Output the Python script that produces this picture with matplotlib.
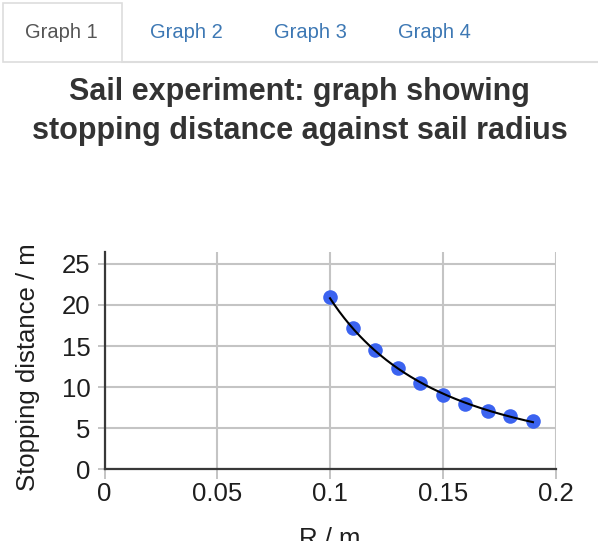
import numpy as np
import matplotlib
matplotlib.use("Agg")
import matplotlib.pyplot as plt
from matplotlib.patches import Rectangle
from matplotlib.lines import Line2D

plt.rcParams['font.family'] = ['Liberation Sans', 'DejaVu Sans']

# ---- data ----
radius = [0.10, 0.11, 0.12, 0.13, 0.14, 0.15, 0.16, 0.17, 0.18, 0.19]
stopping = [21.0, 17.2, 14.5, 12.3, 10.5, 9.1, 8.0, 7.05, 6.5, 5.85]
x_ticks = [0, 0.05, 0.1, 0.15, 0.2]
x_tick_labels = ["0", "0.05", "0.1", "0.15", "0.2"]
y_ticks = [0, 5, 10, 15, 20, 25]
y_tick_labels = ["0", "5", "10", "15", "20", "25"]
tab_labels = ["Graph 1", "Graph 2", "Graph 3", "Graph 4"]
title_lines = ["Sail experiment: graph showing", "stopping distance against sail radius"]
x_label = "R / m"
y_label = "Stopping distance / m"

W, H = 598, 541
fig = plt.figure(figsize=(W / 100, H / 100), dpi=100)
fig.patch.set_facecolor('white')

def fx(px):
    return px / W

def fy(py):
    return 1 - py / H

# ---- tabs ----
tab_centers = [61.5, 186, 310, 434]
tab_colors = ['#555555', '#3d78b4', '#3d78b4', '#3d78b4']
fig.patches.append(Rectangle((fx(3), fy(62)), fx(122) - fx(3), fy(3) - fy(62),
                             transform=fig.transFigure, facecolor='white',
                             edgecolor='#dddddd', linewidth=1.2, zorder=1))
fig.lines.append(Line2D([fx(122), 1.0], [fy(62), fy(62)], transform=fig.transFigure,
                        color='#dddddd', linewidth=1.5, zorder=1))
for lab, cx, col in zip(tab_labels, tab_centers, tab_colors):
    fig.text(fx(cx), fy(33), lab, ha='center', va='center', fontsize=14.5, color=col)

# ---- title ----
fig.text(fx(299.5), fy(100), title_lines[0], ha='center', va='baseline',
         fontsize=22, fontweight='bold', color='#333333')
fig.text(fx(299.5), fy(139), title_lines[1], ha='center', va='baseline',
         fontsize=22, fontweight='bold', color='#333333')

# ---- axes ----
left, right, top, bottom = 104.5, 555.5, 252.3, 469.3
ax = fig.add_axes([fx(left), fy(bottom), (right - left) / W, (bottom - top) / H])
ax.set_xlim(0, 0.2)
ax.set_ylim(0, 26.4)
ax.set_xticks(x_ticks)
ax.set_xticklabels(x_tick_labels)
ax.set_yticks(y_ticks)
ax.set_yticklabels(y_tick_labels)
ax.grid(True, color='#c4c4c4', linewidth=1.5)
ax.set_axisbelow(True)
for s in ['top', 'right']:
    ax.spines[s].set_visible(False)
for s in ['left', 'bottom']:
    ax.spines[s].set_color('#383838')
    ax.spines[s].set_linewidth(1.6)
    ax.spines[s].set_zorder(2.5)
ax.tick_params(axis='x', length=7.2, width=1.4, color='#c4c4c4', pad=2,
               labelsize=18.5, labelcolor='#1e1e1e')
ax.tick_params(axis='y', length=5.4, width=1.4, color='#c4c4c4', pad=4.5,
               labelsize=18.5, labelcolor='#1e1e1e')

ax.plot(radius, stopping, 'o', color='#3b63f0', markersize=10.5, markeredgewidth=0,
        zorder=3, clip_on=False)

# power-law trendline fitted to the points
r = np.array(radius)
s = np.array(stopping)
b, a = np.polyfit(np.log(r), np.log(s), 1)
xx = np.linspace(r.min(), r.max(), 200)
ax.plot(xx, np.exp(a) * xx ** b, color='black', linewidth=1.5, zorder=4)

# axis labels
fig.text(fx(28), fy(367.5), y_label, rotation=90, ha='center', va='center',
         fontsize=18.5, color='#1e1e1e')
fig.text(fx(330), fy(546.3), x_label, ha='center', va='baseline',
         fontsize=18.5, color='#1e1e1e')

fig.savefig('out.png', dpi=100, facecolor='white')
